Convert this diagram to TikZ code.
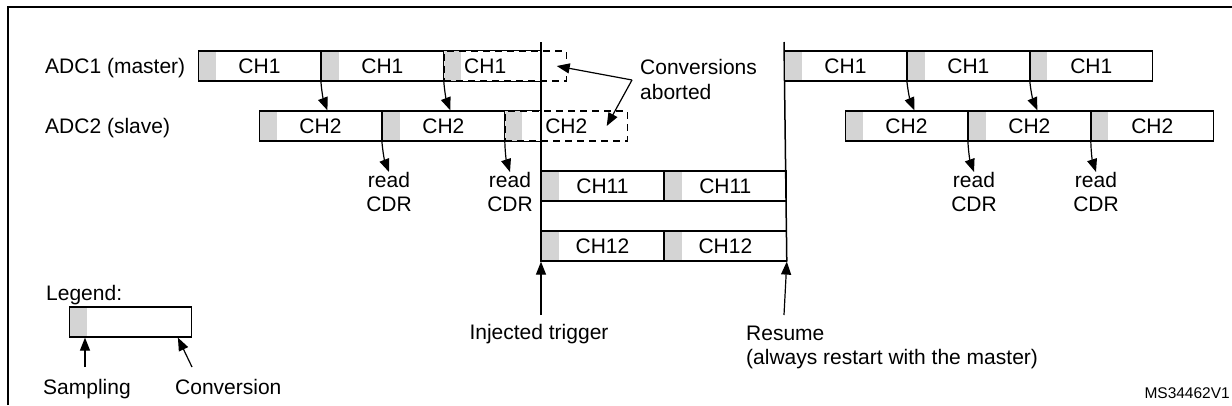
\documentclass[tikz,border=0pt]{standalone}
\usepackage{fontspec}
\setmainfont{Liberation Sans}
\usetikzlibrary{arrows.meta}

\definecolor{smplgray}{RGB}{212,212,212}

\tikzset{
  seg/.style={draw, line width=1.2pt, minimum width=121.7pt, minimum height=30pt, inner sep=0pt, anchor=west,
    path picture={\fill[smplgray] (path picture bounding box.north west) rectangle ([xshift=17pt]path picture bounding box.south west);}},
  abrt/.style={seg, dash pattern=on 7pt off 5pt},
  arr/.style={-{Triangle[length=13pt,width=10pt]}, line width=1.2pt},
  vline/.style={line width=1.5pt},
}

\begin{document}
\begin{tikzpicture}[x=1pt, y=-1pt, inner sep=0pt, font=\fontsize{21}{24.5}\selectfont]
\useasboundingbox (0,0) rectangle (1232,405);
\draw[line width=2.5pt] (8,405) -- (8,7) -- (1232,7);

% row labels
\node[anchor=base west] (adc1) at (45,73.5) {ADC1 (master)};
\node[anchor=base west] (adc2) at (45,133.5) {ADC2 (slave)};

% master and slave before the injected trigger
\node[seg] (m1) at (198,66) {CH1};
\node[seg] (m2) at (m1.east) {CH1};
\node[abrt, label={[xshift=-20pt]center:CH1}] (m3) at (m2.east) {};
\node[seg] (s1) at (259,126) {CH2};
\node[seg] (s2) at (s1.east) {CH2};
\node[abrt] (s3) at (s2.east) {CH2};

% trigger and resume lines
\coordinate (trig) at (541,42);
\coordinate (resm) at (784,42);
\draw[line width=1.2pt] (m3.north -| trig) -- (m3.north west) -- (m3.south west) -- (m3.south -| trig);
\draw[line width=1.2pt] (s3.north -| trig) -- (s3.north west) -- (s3.south west) -- (s3.south -| trig);

% injected channels
\node[seg] (c11a) at (541,186) {CH11};
\node[seg] (c11b) at (c11a.east) {CH11};
\node[seg] (c12a) at (541,246) {CH12};
\node[seg] (c12b) at (c12a.east) {CH12};

\draw[vline] (trig) -- (c12a.south west);
\draw[vline] (resm) -- (c12b.south east);

% master and slave after resume
\node[seg] (rm1) at (784,66) {CH1};
\node[seg] (rm2) at (rm1.east) {CH1};
\node[seg] (rm3) at (rm2.east) {CH1};
\node[seg] (rs1) at (845,126) {CH2};
\node[seg] (rs2) at (rs1.east) {CH2};
\node[seg] (rs3) at (rs2.east) {CH2};

\draw[arr] (m1.south east) to[bend right=8] ([xshift=7pt]s1.north);
\draw[arr] (m2.south east) to[bend right=8] ([xshift=7pt]s2.north);
\draw[arr] (rm1.south east) to[bend right=8] ([xshift=8pt]rs1.north);
\draw[arr] (rm2.south east) to[bend right=8] ([xshift=8pt]rs2.north);

% read CDR
\node[anchor=north, align=center] (rd1) at (389,172) {read\\CDR};
\node[anchor=north, align=center] (rd2) at (510,172) {read\\CDR};
\node[anchor=north, align=center] (rd3) at (974,172) {read\\CDR};
\node[anchor=north, align=center] (rd4) at (1096,172) {read\\CDR};
\draw[arr] (s1.south east) to[bend right=8] (rd1.north);
\draw[arr] (s2.south east) to[bend right=8] (rd2.north);
\draw[arr] (rs1.south east) to[bend right=8] (rd3.north);
\draw[arr] (rs2.south east) to[bend right=8] (rd4.north);

% aborted conversions
\node[anchor=north west, align=left] (conv) at (640,59.5) {Conversions\\aborted};
\coordinate (abr) at (632,80);
\draw[arr] (abr) -- ([xshift=-10pt]m3.east);
\draw[arr] (abr) -- ([xshift=-21pt]s3.east);

% trigger / resume texts
\coordinate (trigtail) at (541,315);
\coordinate (resmtail) at (784,315);
\draw[arr] (trigtail) -- (c12a.south west);
\draw[arr] (resmtail) -- (c12b.south east);
\node[anchor=base] (injtrg) at (539,339.5) {Injected trigger};
\node[anchor=north west, align=left] (resume) at (746,325.5) {Resume\\(always restart with the master)};

% legend
\node[anchor=base west] (legend) at (46,300.5) {Legend:};
\node[seg] (lgb) at (69,322) {};
\coordinate (smpt) at (85,367);
\coordinate (cnvt) at (192,367);
\draw[arr] (smpt) -- ([xshift=16pt]lgb.south west);
\draw[arr] (cnvt) -- ([xshift=-14pt]lgb.south east);
\node[anchor=base west] (smpl) at (43,394.5) {Sampling};
\node[anchor=base west] (cnvs) at (175,394.5) {Conversion};

\node[anchor=base east, font=\fontsize{15.5}{18}\selectfont] (msid) at (1230,398.5) {MS34462V1};
\end{tikzpicture}
\end{document}
